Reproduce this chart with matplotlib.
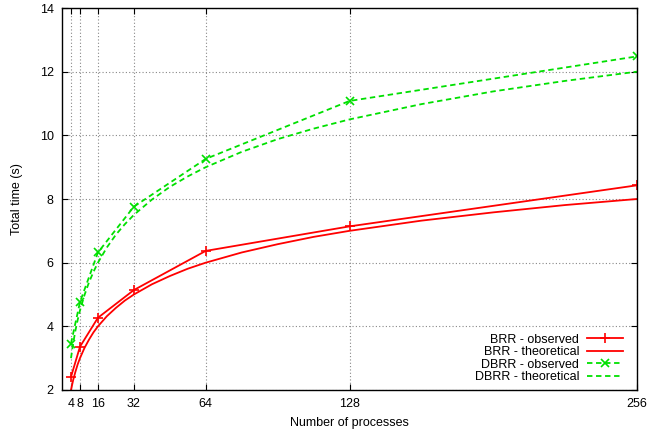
import matplotlib
matplotlib.use("Agg")
import matplotlib.pyplot as plt

plt.rcParams['font.family'] = ['Liberation Sans', 'DejaVu Sans']

# observed runs
procs = [4, 8, 16, 32, 64, 128, 256]
brr_obs = [2.41, 3.36, 4.27, 5.14, 6.37, 7.14, 8.43]
dbrr_obs = [3.46, 4.76, 6.32, 7.76, 9.26, 11.08, 12.48]

# theoretical curves, read at a denser set of process counts
procs_th = [4, 5, 6, 7, 8, 10, 12, 14, 16, 20, 24, 28, 32, 40, 48, 56, 64,
            80, 96, 112, 128, 160, 192, 224, 256]
brr_th = [2.0, 2.32, 2.58, 2.81, 3.0, 3.32, 3.58, 3.81, 4.0, 4.32, 4.58, 4.81,
          5.0, 5.32, 5.58, 5.81, 6.0, 6.32, 6.58, 6.81, 7.0, 7.32, 7.58, 7.81,
          8.0]
dbrr_th = [3.0, 3.48, 3.88, 4.21, 4.5, 4.98, 5.38, 5.71, 6.0, 6.48, 6.88,
           7.21, 7.5, 7.98, 8.38, 8.71, 9.0, 9.48, 9.88, 10.21, 10.5, 10.98,
           11.38, 11.71, 12.0]

xticks = [4, 8, 16, 32, 64, 128, 256]
yticks = [2, 4, 6, 8, 10, 12, 14]

red = '#ff0000'
green = '#00e000'

fig = plt.figure(figsize=(6.49, 4.30), dpi=100)
ax = fig.add_axes([62 / 649, 40 / 430, 575 / 649, 382 / 430])

ax.plot(procs, brr_obs, color=red, lw=1.3, marker='+', ms=7, mew=1.2,
        label='BRR - observed')
ax.plot(procs_th, brr_th, color=red, lw=1.3, label='BRR - theoretical')
ax.plot(procs, dbrr_obs, color=green, lw=1.3, ls=(0, (3, 2)), marker='x', ms=5.5,
        mew=1.2, label='DBRR - observed')
ax.plot(procs_th, dbrr_th, color=green, lw=1.3, ls=(0, (3, 2)),
        label='DBRR - theoretical')

ax.set_xlim(0, 256)
ax.set_ylim(2, 14)
ax.set_xticks(xticks)
ax.set_yticks(yticks)
ax.tick_params(direction='in', top=True, right=True, labelsize=9, length=4,
               pad=6)
ax.grid(True, color='#888888', ls=(0, (1, 2)), lw=0.8)
for s in ax.spines.values():
    s.set_linewidth(1.0)

ax.set_xlabel('Number of processes', fontsize=9, labelpad=5)
ax.set_ylabel('Total time (s)', fontsize=9, labelpad=12)

leg = ax.legend(loc='lower right', bbox_to_anchor=(0.984, 0.004),
                frameon=False, markerfirst=False,
                fontsize=9, handlelength=2.9, labelspacing=0.05,
                borderaxespad=0.0, handletextpad=0.6)
for t in leg.get_texts():
    t.set_ha('right')
leg._legend_box.align = 'right'

fig.savefig('out.png', dpi=100)
